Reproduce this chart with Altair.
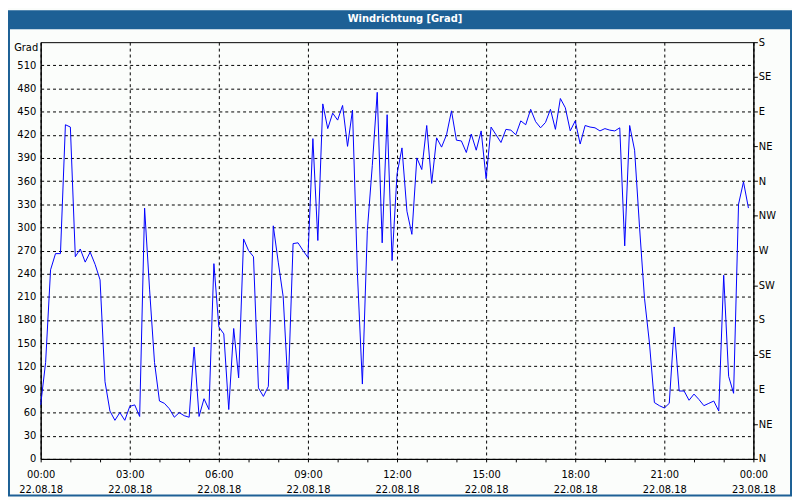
import altair as alt
import pandas as pd

# wind direction in degrees, one reading every 10 minutes from 22.08.18 00:00
grad = [
    70, 125, 245, 266, 266, 433, 430, 262, 272, 255, 268, 252,
    232, 100, 62, 50, 60, 50, 68, 70, 55, 325, 220, 125,
    75, 72, 65, 54, 60, 56, 54, 145, 55, 78, 64, 253,
    171, 162, 64, 169, 105, 285, 270, 262, 92, 81, 94, 302,
    255, 210, 90, 279, 280, 270, 261, 415, 283, 460, 428, 448,
    439, 458, 405, 452, 240, 97, 296, 380, 475, 280, 446, 257,
    369, 403, 321, 291, 390, 375, 432, 357, 416, 404, 420, 451,
    413, 412, 397, 421, 400, 425, 363, 430, 420, 410, 427, 426,
    420, 438, 433, 453, 437, 429, 436, 453, 427, 467, 455, 425,
    438, 408, 432, 430, 429, 425, 428, 426, 425, 429, 276, 432,
    400, 300, 208, 150, 73, 69, 66, 72, 171, 88, 88, 76,
    84, 77, 69, 72, 75, 62, 238, 107, 85, 330, 359, 325,
]
zeit = [t.strftime("%Y-%m-%dT%H:%M:%SZ")
        for t in pd.date_range("2018-08-22 00:00", periods=len(grad), freq="10min")]

left_ticks = [0, 30, 60, 90, 120, 150, 180, 210, 240, 270, 300, 330, 360, 390, 420, 450, 480, 510]
right_ticks = [0, 45, 90, 135, 180, 225, 270, 315, 360, 405, 450, 495, 540]
compass = ["N", "NE", "E", "SE", "S", "SW", "W", "NW"]
x_hours = [(22, h) for h in range(24)] + [(23, 0)]
title_text = "Windrichtung [Grad]"
y_label = "Grad"

df = pd.DataFrame({"zeit": zeit, "grad": grad})

BLUE = "#1D6095"
FONT = "DejaVu Sans"

x_scale = alt.Scale(
    type="utc",
    domain=[alt.DateTime(year=2018, month=8, date=22, hours=0, utc=True),
            alt.DateTime(year=2018, month=8, date=23, hours=0, utc=True)],
)
y_scale = alt.Scale(domain=[0, 540], nice=False, zero=True)

x_axis = alt.Axis(
    values=[alt.DateTime(year=2018, month=8, date=d, hours=h, utc=True) for d, h in x_hours],
    labelExpr="utchours(datum.value) % 3 == 0 ? [utcFormat(datum.value, '%H:%M'), utcFormat(datum.value, '%d.%m.%y')] : ''",
    labelLineHeight=15,
    labelPadding=8,
    labelOverlap=False,
    labelFlush=False,
    labelBound=False,
    tickSize=3,
    grid=True,
    gridColor="black",
    gridDash=[3, 3],
    gridOpacity={"condition": {"test": "utchours(datum.value) % 3 == 0", "value": 1}, "value": 0},
    title=None,
)

left_axis = alt.Axis(
    values=left_ticks,
    orient="left",
    ticks=False,
    labelPadding=5,
    grid=True,
    gridColor="black",
    gridDash=[3, 3],
    gridOpacity=1,
    title=y_label,
    titleAngle=0,
    titleAlign="right",
    titleBaseline="middle",
    titleX=-3,
    titleY=5,
    titleFontWeight="normal",
    titleFontSize=10,
    titleFont=FONT,
    titleColor="black",
)

right_axis = alt.Axis(
    values=right_ticks,
    orient="right",
    labelExpr="['N','NE','E','SE','S','SW','W','NW'][round(datum.value / 45) % 8]",
    tickSize=4,
    labelPadding=1,
    grid=False,
    title=None,
)

line = alt.Chart(df).mark_line(color="#0000FF", strokeWidth=1).encode(
    x=alt.X("zeit:T", scale=x_scale, axis=x_axis),
    y=alt.Y("grad:Q", scale=y_scale, axis=left_axis),
)

right = alt.Chart(df).mark_line(strokeOpacity=0).encode(
    x=alt.X("zeit:T", scale=x_scale, axis=x_axis),
    y=alt.Y("grad:Q", scale=y_scale, axis=right_axis),
)

one = alt.Data(values=[{}])
title_bar = alt.Chart(one).mark_rect(color=BLUE).encode(
    x=alt.value(-33), x2=alt.value(759), y=alt.value(-32), y2=alt.value(-13)
)
title_mark = alt.Chart(one).mark_text(
    color="white", font=FONT, fontSize=10, fontWeight="bold",
    align="center", baseline="middle",
).encode(x=alt.value(368), y=alt.value(-23), text=alt.value(title_text))
border = alt.Chart(one).mark_rect(fill=None, stroke=BLUE, strokeWidth=2).encode(
    x=alt.value(-32), x2=alt.value(758), y=alt.value(-31), y2=alt.value(458)
)

chart = (
    alt.layer(line, right, title_bar, title_mark, border)
    .resolve_scale(y="independent")
    .properties(
        width=720,
        height=421,
        autosize=alt.AutoSizeParams(type="none"),
        padding={"left": 33, "top": 32, "right": 39, "bottom": 39},
        background="#FBFDFB",
    )
    .configure_view(stroke="black", strokeWidth=1)
    .configure_axis(
        labelFont=FONT,
        labelFontSize=10,
        labelColor="black",
        domainColor="black",
        tickColor="black",
    )
)

chart.save("out.html", embed_options={"renderer": "svg", "actions": False})
